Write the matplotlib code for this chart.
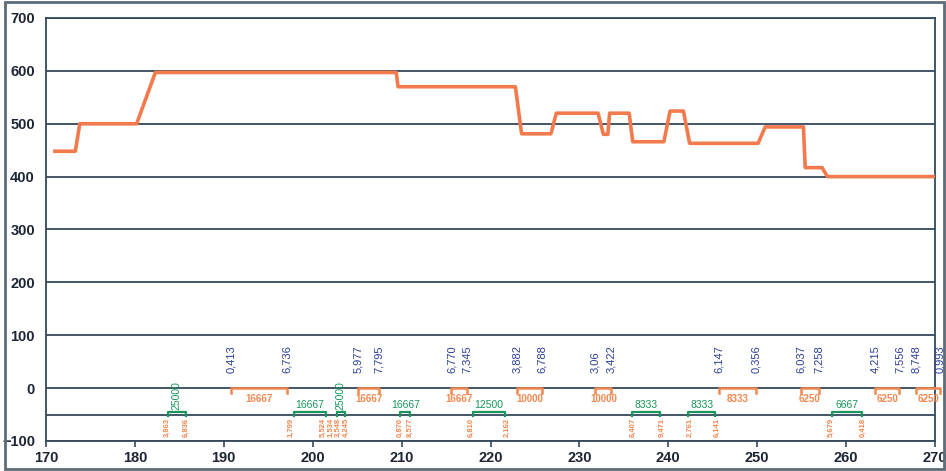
import numpy as np
import matplotlib
matplotlib.use("Agg")
import matplotlib.pyplot as plt
from matplotlib.patches import Rectangle

plt.rcParams['font.family'] = ['Liberation Sans', 'DejaVu Sans']

X_START = 170
X_END = 270
Y_START = -100
Y_END = 700

LINE_COLOR = "#f37a4c"
GRID_COLOR = "#34485a"
BLUE = "#2b3f98"
ORANGE = "#f2874f"
GREEN = "#16965a"
TEXT_COLOR = "#1d2535"

# main step profile
prof_x = [171.0, 173.3, 173.8, 180.2, 182.3, 209.4, 209.6, 222.8, 223.5, 226.8,
          227.4, 232.1, 232.7, 233.2, 233.4, 235.6, 236.0, 239.5, 240.2, 241.7,
          242.4, 250.1, 250.9, 255.2, 255.4, 257.3, 257.9, 270.0]
prof_y = [448, 448, 500, 500, 597, 597, 570, 570, 481, 481,
          520, 520, 480, 480, 520, 520, 466, 466, 524, 524,
          463, 463, 494, 494, 417, 417, 400, 400]

# blue marker labels (pairs form the orange brackets)
blue_x = [190.8, 197.1, 205.1, 207.5, 215.6, 217.4, 223.0, 225.8, 231.8, 233.6,
          245.7, 249.9, 254.9, 256.9, 263.3, 266.0, 267.9, 270.6]
blue_txt = ["0,413", "6,736", "5,977", "7,795", "6,770", "7,345", "3,882", "6,788",
            "3,06", "3,422", "6,147", "0,356", "6,037", "7,258", "4,215", "7,556",
            "8,748", "0,993"]
orange_txt = ["16667", "16667", "16667", "10000", "10000", "8333", "6250", "6250", "6250"]

# green brackets
g_start = [183.7, 197.9, 202.7, 209.8, 218.0, 235.9, 242.2, 258.4]
g_end = [185.7, 201.5, 203.6, 211.0, 221.6, 239.1, 245.3, 261.8]
g_txt = ["25000", "16667", "25000", "16667", "12500", "8333", "8333", "6667"]
g_rot = [90, 0, 90, 0, 0, 0, 0, 0]

# small orange labels below -50
bot_x = [183.6, 185.8, 197.6, 201.2, 202.05, 202.9, 203.75, 209.8, 211.0, 217.8,
         221.9, 236.0, 239.3, 242.4, 245.5, 258.3, 261.9]
bot_txt = ["3,863", "6,836", "1,799", "5,524", "1,534", "3,548", "4,245", "0,870",
           "8,577", "6,810", "2,162", "6,407", "9,471", "2,761", "6,141", "5,679",
           "0,418"]

x_ticks = list(range(X_START, X_END + 1, 10))
y_ticks = list(range(Y_START, Y_END + 1, 100))

fig = plt.figure(figsize=(9.46, 4.71), dpi=100)
ax = fig.add_axes([46/946, 1-441/471, (935-46)/946, (441-18)/471])

for yv in y_ticks + [-50]:
    ax.axhline(yv, color=GRID_COLOR, lw=1.3, zorder=1)

ax.plot(prof_x, prof_y, color=LINE_COLOR, lw=2.6, zorder=5, solid_joinstyle="round")

# blue labels
for xv, t in zip(blue_x, blue_txt):
    ax.text(xv, 28, t, rotation=90, ha="center", va="bottom", fontsize=8,
            color=BLUE, clip_on=False, zorder=6)

# orange brackets on the zero line
for i, t in enumerate(orange_txt):
    x0, x1 = blue_x[2*i], blue_x[2*i+1]
    ax.plot([x0, x0, x1, x1], [-9, 0, 0, -9], color=ORANGE, lw=1.8, zorder=4,
            clip_on=False)
    ax.text((x0 + x1)/2, -11, t, ha="center", va="top", fontsize=7,
            fontweight="bold", color=ORANGE, clip_on=False, zorder=6)

# green brackets above -50
for x0, x1, t, r in zip(g_start, g_end, g_txt, g_rot):
    ax.plot([x0, x0, x1, x1], [-52, -45, -45, -52], color=GREEN, lw=1.6, zorder=4)
    ax.text((x0 + x1)/2, -41, t, ha="center", va="bottom", rotation=r,
            fontsize=7.5, color=GREEN, zorder=6)

for xv, t in zip(bot_x, bot_txt):
    ax.text(xv, -56, t, rotation=90, ha="center", va="top", fontsize=5.5,
            fontweight="bold", color=ORANGE, zorder=6)

ax.set_xlim(X_START, X_END)
ax.set_ylim(Y_START, Y_END)
ax.set_xticks(x_ticks)
ax.set_yticks(y_ticks)
ax.set_yticklabels([str(v).replace("-", "\u2212") for v in y_ticks])
ax.tick_params(axis="x", direction="out", length=4, width=1.2, color=GRID_COLOR,
               labelsize=10.5, labelcolor=TEXT_COLOR, pad=3)
ax.tick_params(axis="y", length=0, labelsize=10.5, labelcolor=TEXT_COLOR, pad=8)
for lab in ax.get_xticklabels() + ax.get_yticklabels():
    lab.set_fontweight("semibold")
for s in ax.spines.values():
    s.set_color(GRID_COLOR)
    s.set_linewidth(1.3)
ax.set_facecolor("white")

fig.patches.append(Rectangle((5/946, 2/471), 939/946, 467/471, transform=fig.transFigure,
                             fill=False, edgecolor="#5b6b78", lw=2))

fig.savefig("out.png", dpi=100)
